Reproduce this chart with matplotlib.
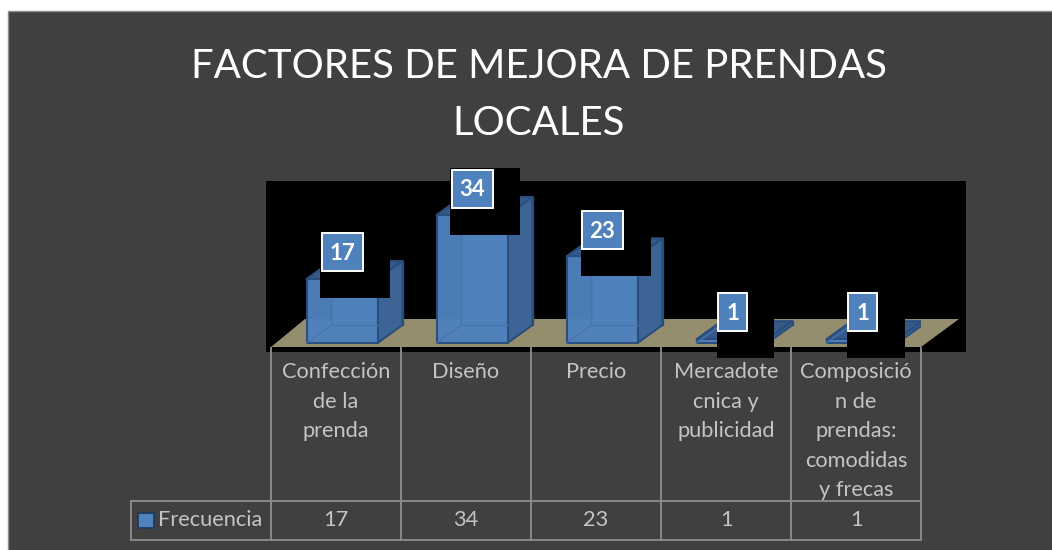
import matplotlib
matplotlib.use('Agg')
import matplotlib.pyplot as plt
from matplotlib.patches import Polygon, Rectangle

plt.rcParams['font.family'] = ['Lato', 'DejaVu Sans']

# data
categories = ['Confección\nde la\nprenda', 'Diseño', 'Precio',
              'Mercadote\ncnica y\npublicidad',
              'Composició\nn de\nprendas:\ncomodidas\ny frecas']
values = [17, 34, 23, 1, 1]
series_name = 'Frecuencia'
title = 'FACTORES DE MEJORA DE PRENDAS\nLOCALES'

W, H = 1052, 550
PANEL = '#404040'
LINE = '#8a8a8a'
TXT = '#c4c4c4'
CELL_W = 130
TABLE_X = 271
BASE_Y = 343
PX_PER_UNIT = 3.765
DX = 25 / CELL_W
DY = 18 / PX_PER_UNIT
BAR_W = 71 / CELL_W
BAR_SHIFT = 6 / CELL_W

fig = plt.figure(figsize=(W / 100, H / 100), dpi=100, facecolor='white')

# background axes in pixels, y going down
bg = fig.add_axes([0, 0, 1, 1])
bg.set_xlim(0, W)
bg.set_ylim(H, 0)
bg.axis('off')

bg.add_patch(Rectangle((8, 11), W - 8 + 5, H - 11 + 5, fc=PANEL, ec='#8c8c8c', lw=1))
bg.add_patch(Rectangle((266, 181), 700, 170.5, fc='black', ec='none'))
bg.text(539, 95, title, ha='center', va='center', color='white', fontsize=29, linespacing=1.67)

# the table under the plot
n = len(categories)
table_right = TABLE_X + n * CELL_W
for i in range(n + 1):
    x = TABLE_X + i * CELL_W
    bg.plot([x, x], [348, 540], color=LINE, lw=1.4, zorder=2)
bg.plot([131, 131], [501, 540], color=LINE, lw=1.4, zorder=2)
bg.plot([131, table_right], [501, 501], color=LINE, lw=1.4, zorder=2)
bg.plot([131, table_right], [540, 540], color=LINE, lw=1.4, zorder=2)
for i, (cat, v) in enumerate(zip(categories, values)):
    cx = TABLE_X + (i + 0.5) * CELL_W
    bg.text(cx, 362, cat, ha='center', va='top', color=TXT, fontsize=15.7, linespacing=1.6)
    bg.text(cx, 520, str(v), ha='center', va='center', color=TXT, fontsize=15.7)
bg.add_patch(Rectangle((138, 512.5), 16, 15.5, fc='#4f81bd', ec='#1f3a5f', lw=1.3, zorder=3))
bg.text(158, 520, series_name, ha='left', va='center', color=TXT, fontsize=15.7)

# bars axes: x in categories, y in value units
ax = fig.add_axes([TABLE_X / W, (H - 351.5) / H, n * CELL_W / W, 170.5 / H], zorder=2)
ax.set_xlim(0, n)
ax.set_ylim((BASE_Y - 351.5) / PX_PER_UNIT, (BASE_Y - 181) / PX_PER_UNIT)
ax.axis('off')
ax.patch.set_alpha(0)

# floor
ax.add_patch(Polygon([(0, -4 / PX_PER_UNIT), (n, -4 / PX_PER_UNIT),
                      (n + 38 / CELL_W, 24 / PX_PER_UNIT), (34 / CELL_W, 24 / PX_PER_UNIT)],
                     fc='#948e6f', ec='none', clip_on=False, zorder=1))

EDGE = '#2b4d7c'
for i, v in enumerate(values):
    x0 = i + 0.5 - BAR_W / 2 + BAR_SHIFT
    x1 = x0 + BAR_W
    # back faces seen through the front
    ax.add_patch(Polygon([(x0 + DX, DY), (x1 + DX, DY), (x1 + DX, v + DY), (x0 + DX, v + DY)],
                         fc='#4f81bd', ec=EDGE, lw=1, zorder=2))
    # top
    ax.add_patch(Polygon([(x0, v), (x1, v), (x1 + DX, v + DY), (x0 + DX, v + DY)],
                         fc='#36598a', ec=EDGE, lw=1.5, joinstyle='round', zorder=3))
    # side
    ax.add_patch(Polygon([(x1, 0), (x1 + DX, DY), (x1 + DX, v + DY), (x1, v)],
                         fc='#3c6595', ec=EDGE, lw=1.5, joinstyle='round', zorder=3))
    # front
    ax.add_patch(Polygon([(x0, 0), (x1, 0), (x1, v), (x0, v)],
                         fc='#4f81bd', ec=EDGE, lw=1.5, joinstyle='round', alpha=0.97, zorder=4))
    ax.plot([x0, x0 + DX, x0 + DX], [0, DY, v], color='#4874a9', lw=1, zorder=5)
    ax.plot([x0 + DX, x1], [DY, DY], color='#4874a9', lw=1, zorder=5)

# value labels with the black block behind each one
label_x = [321.5, 451.5, 582, 718, 848]
label_w = [41, 41, 41, 29, 29]
label_y = [233, 170, 211, 293, 293]
black_w = [70, 70, 70, 57, 58]
for v, lx, lw_, ly, bw in zip(values, label_x, label_w, label_y, black_w):
    ax.add_patch(Rectangle((lx - 1.5, ly - 2), bw, 67, fc='black', ec='none',
                           transform=bg.transData, clip_on=False, zorder=6))
    ax.add_patch(Rectangle((lx, ly), lw_, 38, fc='#4f81bd', ec='white', lw=1.4,
                           transform=bg.transData, clip_on=False, zorder=7))
    ax.text(lx + lw_ / 2, ly + 20, str(v), ha='center', va='center', color='white',
            fontsize=16, fontweight='bold', transform=bg.transData, clip_on=False, zorder=8)

fig.savefig('out.png', dpi=100)
